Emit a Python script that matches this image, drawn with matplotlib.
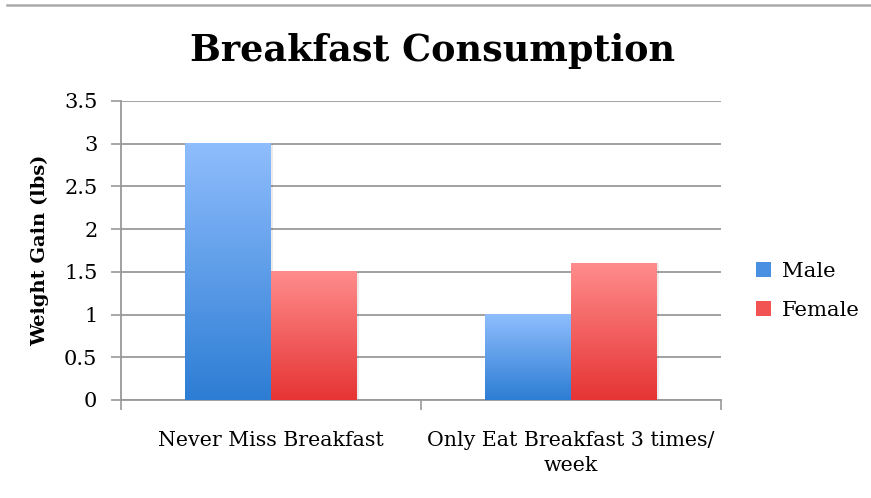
import numpy as np
import matplotlib.pyplot as plt
from matplotlib.colors import LinearSegmentedColormap
from matplotlib.patches import Rectangle

categories = ['Never Miss Breakfast', 'Only Eat Breakfast 3 times/\nweek']
series_names = ['Male', 'Female']
male = [3.0, 1.0]
female = [1.5, 1.6]
yticks = [0, 0.5, 1, 1.5, 2, 2.5, 3, 3.5]
ytick_labels = ['0', '0.5', '1', '1.5', '2', '2.5', '3', '3.5']

plt.rcParams['font.family'] = ['DejaVu Serif']

# vertical gradients, light at the top, saturated at the base
blue_grad = LinearSegmentedColormap.from_list('blue_grad', ['#2d7dd4', '#8fbdfd'])
red_grad = LinearSegmentedColormap.from_list('red_grad', ['#e63434', '#ff8c8c'])
grad = np.linspace(0, 1, 256).reshape(-1, 1)

fig = plt.figure(figsize=(8.71, 4.98), dpi=100)
ax = fig.add_axes([0.1389, 0.1968, 0.6889, 0.6004])

width = 1 / 3.5
x = np.arange(len(categories)) + 0.5
for vals, cmap, offset in [(male, blue_grad, -width / 2), (female, red_grad, width / 2)]:
    bars = ax.bar(x + offset, vals, width, color='none', edgecolor='none', zorder=3)
    for b in bars:
        x0, w, h = b.get_x(), b.get_width(), b.get_height()
        # soft drop shadow to the right of each bar
        ax.add_patch(Rectangle((x0 + 0.006, 0), w, h, facecolor='#000000', alpha=0.08,
                               edgecolor='none', zorder=2))
        ax.imshow(grad, cmap=cmap, origin='lower', aspect='auto',
                  extent=[x0, x0 + w, 0, h], zorder=3, interpolation='bicubic')

ax.set_xlim(0, 2)
ax.set_ylim(0, 3.5)
ax.set_yticks(yticks)
ax.set_yticklabels(ytick_labels, fontsize=15)
ax.set_xticks([0, 1, 2])
ax.set_xticklabels([])
ax.set_xticks(x, minor=True)
ax.set_xticklabels(categories, minor=True, fontsize=14.8, linespacing=1.45)
ax.tick_params(axis='x', which='minor', length=0, pad=22)
ax.tick_params(axis='x', which='major', length=7, color='#999999', width=1.2)
ax.tick_params(axis='y', length=7, color='#999999', width=1.2, pad=10)

ax.grid(axis='y', color='#9a9a9a', linewidth=1.3, zorder=0)
ax.set_axisbelow(True)
for side in ['top', 'right']:
    ax.spines[side].set_visible(False)
for side in ['left', 'bottom']:
    ax.spines[side].set_color('#999999')
    ax.spines[side].set_linewidth(1.3)

ax.set_ylabel('Weight Gain (lbs)', fontsize=14, fontweight='bold', labelpad=11)
fig.text(0.497, 0.898, 'Breakfast Consumption', ha='center', va='center',
         fontsize=26.3, fontweight='bold')

# legend entries
handles = [Rectangle((0, 0), 1, 1, facecolor=c, edgecolor='none') for c in ['#4a90e2', '#f25454']]
fig.legend(handles, series_names, loc='center left', bbox_to_anchor=(0.846, 0.416),
           frameon=False, fontsize=15.3, handlelength=0.72, handleheight=0.72,
           handletextpad=0.5, labelspacing=0.95)

# rule across the top of the page
fig.add_artist(plt.Line2D([0.008, 1.0], [0.99, 0.99], color='#aaaaaa', linewidth=1.8))

fig.savefig('out.png', dpi=100)
